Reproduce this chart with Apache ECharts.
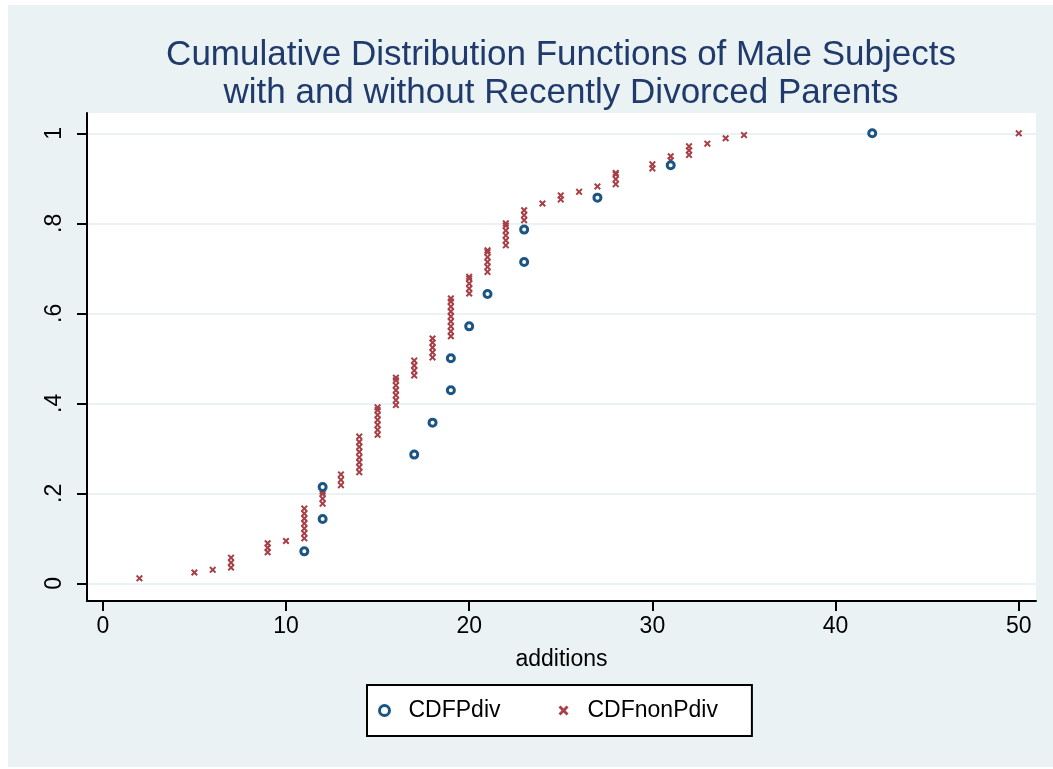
<!DOCTYPE html>
<html>
<head>
<meta charset="utf-8">
<title>CDF additions</title>
<script src="https://cdn.jsdelivr.net/npm/echarts@6.0.0/dist/echarts.min.js"></script>
<style>
  html, body { margin: 0; padding: 0; background: #fff; }
  #bg { position: absolute; left: 8px; top: 5px; width: 1045px; height: 762px; background: #eaf2f3; }
  #main { position: absolute; left: 0; top: 0; width: 1053px; height: 769px; }
</style>
</head>
<body>
<div id="bg"></div>
<div id="main"></div>
<script>
// subjects with recently divorced parents
var pdivX = [11, 12, 12, 17, 18, 19, 19, 20, 21, 23, 23, 27, 31, 42];
var pdivY = [0.071, 0.143, 0.214, 0.286, 0.357, 0.429, 0.5, 0.571, 0.643, 0.714, 0.786, 0.857, 0.929, 1.0];

// subjects without
var nonPdivX = [
  2, 5, 6, 7, 7, 7, 9, 9, 9, 10,
  11, 11, 11, 11, 11, 11, 11,
  12, 12, 12, 12,
  13, 13, 13,
  14, 14, 14, 14, 14, 14, 14, 14,
  15, 15, 15, 15, 15, 15, 15,
  16, 16, 16, 16, 16, 16, 16,
  17, 17, 17, 17,
  18, 18, 18, 18, 18,
  19, 19, 19, 19, 19, 19, 19, 19, 19,
  20, 20, 20, 20, 20,
  21, 21, 21, 21, 21, 21,
  22, 22, 22, 22, 22, 22,
  23, 23, 23,
  24, 25, 25, 26, 27,
  28, 28, 28, 28,
  30, 30, 31, 31,
  32, 32, 32,
  33, 34, 35, 50
];
var nonPdivY = [
  0.011, 0.024, 0.03, 0.035, 0.046, 0.057, 0.069, 0.079, 0.089, 0.094,
  0.100, 0.111, 0.122, 0.133, 0.144, 0.155, 0.166,
  0.177, 0.188, 0.199, 0.204,
  0.218, 0.230, 0.242,
  0.247, 0.258, 0.269, 0.280, 0.292, 0.303, 0.314, 0.326,
  0.330, 0.341, 0.352, 0.363, 0.374, 0.385, 0.391,
  0.396, 0.407, 0.418, 0.429, 0.440, 0.451, 0.457,
  0.462, 0.473, 0.484, 0.495,
  0.502, 0.513, 0.524, 0.535, 0.544,
  0.549, 0.560, 0.571, 0.582, 0.593, 0.604, 0.615, 0.626, 0.633,
  0.644, 0.655, 0.666, 0.677, 0.681,
  0.692, 0.703, 0.714, 0.725, 0.736, 0.740,
  0.751, 0.762, 0.773, 0.784, 0.795, 0.800,
  0.807, 0.818, 0.829,
  0.844, 0.853, 0.862, 0.870, 0.882,
  0.887, 0.898, 0.909, 0.912,
  0.922, 0.931, 0.940, 0.949,
  0.952, 0.962, 0.971,
  0.977, 0.989, 0.996, 1.0
];

var xTicks = [0, 10, 20, 30, 40, 50];
var yTicks = [0, 0.2, 0.4, 0.6, 0.8, 1];

var FONT = '"Liberation Sans", Arial, sans-serif';
var crossPath = 'path://M2,0 L5,3 L8,0 L10,2 L7,5 L10,8 L8,10 L5,7 L2,10 L0,8 L3,5 L0,2 Z';
var navy = '#1b5583';
var maroon = '#a83f46';

function zip(xs, ys) {
  var out = [];
  for (var i = 0; i < xs.length; i++) out.push([xs[i], ys[i]]);
  return out;
}

// stata style: 0 .2 .4 .6 .8 1
function yLabel(v) {
  var r = Math.round(Number(v) * 10) / 10;
  if (r >= 1) return '1';
  if (r <= 0) return '0';
  return '.' + Math.round(r * 10);
}

var chart = echarts.init(document.getElementById('main'));
chart.setOption({
  animation: false,
  backgroundColor: 'transparent',
  textStyle: { fontFamily: FONT },
  title: {
    text: 'Cumulative Distribution Functions of Male Subjects\nwith and without Recently Divorced Parents',
    left: 561,
    top: 36,
    padding: 0,
    textAlign: 'center',
    textStyle: { fontFamily: FONT, fontSize: 35, fontWeight: 'normal', color: '#1f3a6b', lineHeight: 38 }
  },
  legend: {
    left: 367,
    top: 685,
    padding: [14, 34, 14, 11],
    itemGap: 58,
    itemWidth: 10,
    itemHeight: 10,
    backgroundColor: '#fff',
    borderColor: '#000',
    borderWidth: 2,
    borderRadius: 0,
    textStyle: { fontFamily: FONT, fontSize: 23, color: '#000', padding: [0, 0, 0, 14] },
    data: [
      { name: 'CDFPdiv', icon: 'circle', itemStyle: { color: '#fff', borderColor: navy, borderWidth: 3 } },
      { name: 'CDFnonPdiv', icon: crossPath, itemStyle: { color: maroon, borderWidth: 0 } }
    ]
  },
  grid: {
    left: 87,
    right: 17,
    top: 113,
    bottom: 168,
    show: true,
    backgroundColor: '#fff',
    borderWidth: 0
  },
  xAxis: {
    type: 'value',
    min: -0.862,
    max: 50.94,
    name: 'additions',
    nameLocation: 'middle',
    nameGap: 47,
    nameTextStyle: { fontFamily: FONT, fontSize: 23, color: '#000' },
    axisLine: { onZero: false, lineStyle: { color: '#000', width: 2 } },
    axisTick: { length: 10, lineStyle: { color: '#000', width: 2 }, customValues: xTicks },
    axisLabel: { customValues: xTicks, fontSize: 23, color: '#000', margin: 14, fontFamily: FONT },
    splitLine: { show: false }
  },
  yAxis: {
    type: 'value',
    min: -0.0393,
    max: 1.0451,
    axisLine: { show: true, onZero: false, lineStyle: { color: '#000', width: 2 } },
    axisTick: { show: true, length: 10, lineStyle: { color: '#000', width: 2 }, customValues: yTicks },
    axisLabel: {
      customValues: yTicks,
      rotate: 90,
      fontSize: 23,
      color: '#000',
      margin: 21,
      fontFamily: FONT,
      formatter: yLabel
    },
    splitLine: { show: true, lineStyle: { color: '#eaf2f3', width: 2 } }
  },
  series: [
    {
      name: 'CDFPdiv',
      type: 'scatter',
      symbol: 'circle',
      symbolSize: 7,
      itemStyle: { color: '#fff', borderColor: navy, borderWidth: 3, opacity: 1 },
      data: zip(pdivX, pdivY),
      z: 3
    },
    {
      name: 'CDFnonPdiv',
      type: 'scatter',
      symbol: crossPath,
      symbolSize: 7,
      itemStyle: { color: maroon, opacity: 1 },
      data: zip(nonPdivX, nonPdivY),
      z: 2
    }
  ]
});
</script>
</body>
</html>
